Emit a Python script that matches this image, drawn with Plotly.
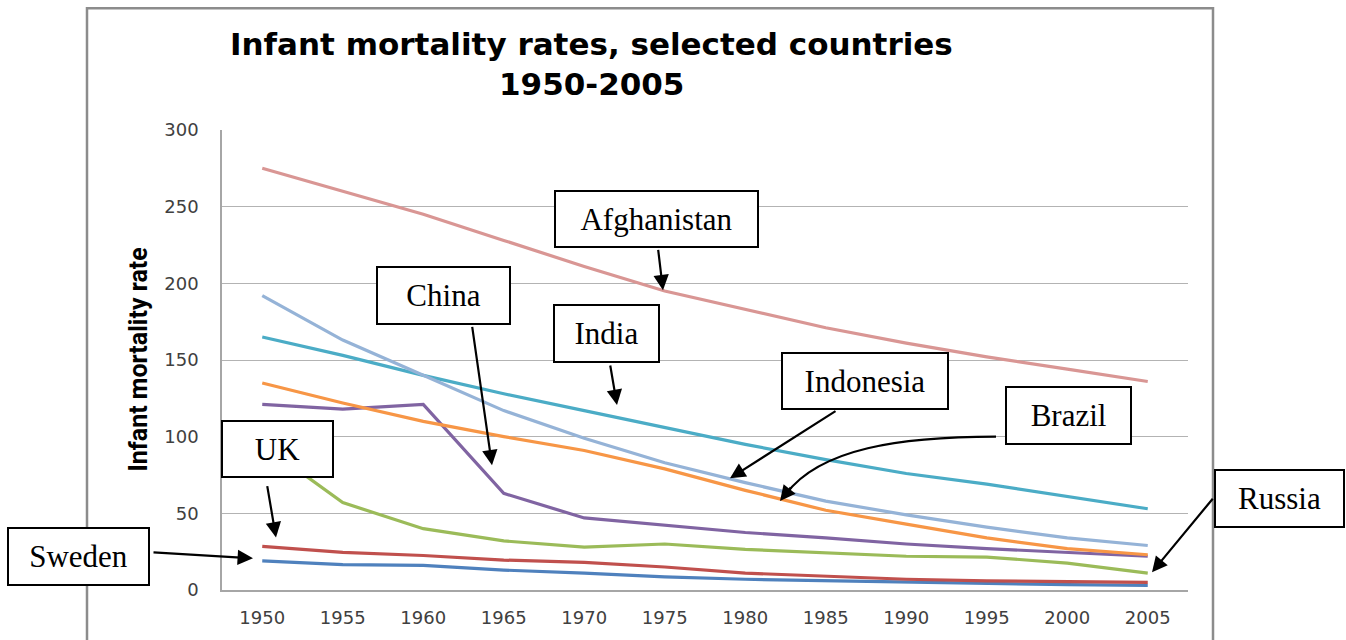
import plotly.graph_objects as go

years = [1950, 1955, 1960, 1965, 1970, 1975, 1980, 1985, 1990, 1995, 2000, 2005]
sweden = [19, 16.5, 16, 13, 11, 8.5, 7, 6, 5.5, 4, 3.5, 3]
uk = [28.5, 24.5, 22.5, 19.5, 18, 15, 11, 9, 7, 6, 5.5, 5]
russia = [95, 57, 40, 32, 28, 30, 26.5, 24, 22, 21.5, 17.5, 11]
china = [121, 118, 121, 63, 47, 42, 37.5, 34, 30, 27, 24.5, 22]
india = [165, 153, 140, 128, 117, 106, 95, 85, 76, 69, 61, 53]
afghanistan = [275, 260, 245, 228, 211, 195, 183, 171, 161, 152, 144, 136]
brazil = [135, 122, 110, 100, 91, 79, 65, 52, 43, 34, 27, 23]
indonesia = [192, 163, 140, 117, 99, 83, 70, 58, 49, 41, 34, 29]

series = [
    ("Sweden", sweden, "#4F81BD"),
    ("UK", uk, "#C0504D"),
    ("Russia", russia, "#9BBB59"),
    ("China", china, "#8064A2"),
    ("India", india, "#4BACC6"),
    ("Afghanistan", afghanistan, "#D99694"),
    ("Brazil", brazil, "#F79646"),
    ("Indonesia", indonesia, "#95B3D7"),
]

W, H = 1346, 640
# plot area in page pixels
L, R, T, B = 222, 1188, 130, 595
PW, PH = R - L, B - T


def px(x):
    return (x - L) / PW


def py(y):
    return (B - y) / PH


fig = go.Figure()
for name, vals, col in series:
    fig.add_trace(go.Scatter(x=years, y=vals, mode="lines", name=name,
                             line=dict(color=col, width=3.2), showlegend=False))

ann = []
shapes = []

# Title
ann.append(dict(text="<b>Infant mortality rates, selected countries</b>", xref="paper", yref="paper",
                x=px(591), y=py(43), xanchor="center", yanchor="middle", showarrow=False,
                font=dict(family="DejaVu Sans", size=31, color="#000000")))
ann.append(dict(text="<b>1950-2005</b>", xref="paper", yref="paper",
                x=px(591), y=py(83), xanchor="center", yanchor="middle", showarrow=False,
                font=dict(family="DejaVu Sans", size=31, color="#000000")))
# Y axis title
ann.append(dict(text="<b>Infant mortality rate</b>", xref="paper", yref="paper",
                x=px(139), y=py(362), xanchor="center", yanchor="middle", showarrow=False,
                textangle=-90,
                font=dict(family="Liberation Sans Narrow, Roboto", size=25, color="#000000")))

# Label boxes: (text, x0, y0, x1, y1) in page pixels
boxes = [
    ("Afghanistan", 554, 191, 759, 249),
    ("China", 376, 268, 511, 327),
    ("India", 553, 306, 660, 365),
    ("Indonesia", 781, 355, 949, 413),
    ("Brazil", 1005, 389, 1132, 448),
    ("Russia", 1214, 473, 1345, 532),
    ("UK", 221, 423, 334, 481),
    ("Sweden", 7, 532, 150, 591),
]
for text, x0, y0, x1, y1 in boxes:
    ann.append(dict(text=text, xref="paper", yref="paper",
                    x=px((x0 + x1) / 2), y=py((y0 + y1) / 2), xanchor="center", yanchor="middle",
                    showarrow=False, width=x1 - x0 - 4, height=y1 - y0 - 4,
                    align="center", valign="middle",
                    bgcolor="#FFFFFF", bordercolor="#000000", borderwidth=2, borderpad=0,
                    font=dict(family="Liberation Serif", size=31, color="#000000")))

# Straight arrows: tail -> tip (page pixels)
arrows = [
    ((658, 250), (663, 292)),
    ((472, 329), (492, 469)),
    ((610, 367), (617, 408)),
    ((837, 414), (730, 482)),
    ((1214, 502), (1152, 577)),
    ((267, 489), (276, 542)),
    ((152, 557), (253, 563)),
]
for (tx, ty), (hx, hy) in arrows:
    ann.append(dict(text="", xref="paper", yref="paper", x=px(hx), y=py(hy),
                    axref="pixel", ayref="pixel", ax=tx - hx, ay=ty - hy,
                    showarrow=True, arrowhead=2, arrowsize=1.4, arrowwidth=2.2,
                    arrowcolor="#000000", standoff=0, startstandoff=0))

# Curved Brazil arrow
p0, c1, c2, p3 = (996, 440), (900, 440), (820, 452), (786, 498)
path = "M {},{} C {},{} {},{} {},{}".format(px(p0[0]), py(p0[1]), px(c1[0]), py(c1[1]),
                                            px(c2[0]), py(c2[1]), px(p3[0]), py(p3[1]))
shapes.append(dict(type="path", path=path, xref="paper", yref="paper",
                   line=dict(color="#000000", width=2.2)))
ann.append(dict(text="", xref="paper", yref="paper", x=px(780), y=py(505),
                axref="pixel", ayref="pixel", ax=12, ay=-15,
                showarrow=True, arrowhead=2, arrowsize=1.4, arrowwidth=2.2,
                arrowcolor="#000000", standoff=0, startstandoff=0))

# Chart border
shapes.append(dict(type="rect", xref="paper", yref="paper",
                   x0=px(87), x1=px(1213), y0=py(7), y1=py(680),
                   line=dict(color="#8C8C8C", width=2.5), fillcolor="rgba(0,0,0,0)", layer="below"))

fig.update_layout(
    width=W, height=H,
    margin=dict(l=L, r=W - R, t=T, b=H - B, pad=0),
    paper_bgcolor="#FFFFFF", plot_bgcolor="#FFFFFF",
    annotations=ann, shapes=shapes,
    xaxis=dict(range=[1947.5, 2007.5], tickvals=years, ticktext=[str(y) for y in years],
               showgrid=False, zeroline=False, showline=True, linecolor="#A6A6A6", linewidth=1.5,
               ticks="", ticklabelstandoff=11,
               tickfont=dict(family="DejaVu Sans", size=18, color="#404040")),
    yaxis=dict(range=[0, 300], tickvals=[0, 50, 100, 150, 200, 250, 300],
               showgrid=True, gridcolor="#B3B3B3", gridwidth=1.2, zeroline=False,
               showline=True, linecolor="#A6A6A6", linewidth=1.5,
               ticks="", ticklabelstandoff=18,
               tickfont=dict(family="DejaVu Sans", size=18, color="#404040")),
)

fig.write_html("out.html", config={"displayModeBar": False},
               post_script="document.body.style.margin='0px';document.body.style.overflow='hidden';")
